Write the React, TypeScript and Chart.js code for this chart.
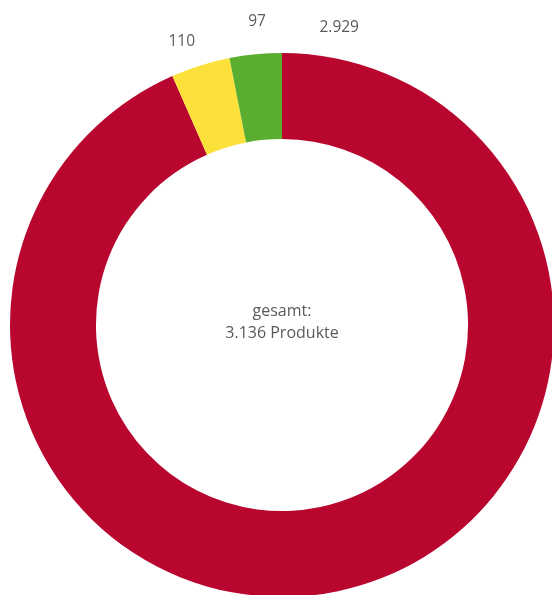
import React, { useEffect, useRef } from "react";
import { Chart, registerables } from "chart.js";

Chart.register(...registerables);

const categories = ["Kategorie A", "Kategorie B", "Kategorie C"];
const values = [2929, 110, 97];
const valueLabels = ["2.929", "110", "97"];
const colors = ["#B8062F", "#FCE13B", "#5AAE2F"];
const centerLines = ["gesamt:", "3.136 Produkte"];

const FONT = "'Open Sans', 'Noto Sans', sans-serif";

const labelPlugin = {
  id: "outerLabels",
  afterDatasetsDraw(chart: any) {
    const ctx = chart.ctx;
    const meta = chart.getDatasetMeta(0);
    ctx.save();
    ctx.fillStyle = "#5a5a5a";
    ctx.font = `15.5px ${FONT}`;
    ctx.textAlign = "center";
    ctx.textBaseline = "middle";
    meta.data.forEach((arc: any, i: number) => {
      const p = arc.getProps(["x", "y", "startAngle", "endAngle", "outerRadius"], true);
      let angle = (p.startAngle + p.endAngle) / 2;
      let r = p.outerRadius + 32;
      if (p.endAngle - p.startAngle > Math.PI) {
        angle = p.startAngle + 0.19;
        r = p.outerRadius + 31;
      } else if (i === 1) {
        angle -= 0.035;
        r = p.outerRadius + 29;
      } else {
        angle += 0.015;
      }
      const x = p.x + Math.cos(angle) * r;
      const y = p.y + Math.sin(angle) * r;
      ctx.fillText(valueLabels[i], x, y);
    });
    const a0 = meta.data[0];
    ctx.font = `16px ${FONT}`;
    ctx.fillText(centerLines[0], a0.x, a0.y - 14);
    ctx.fillText(centerLines[1], a0.x, a0.y + 8);
    ctx.restore();
  },
};

export default function App() {
  const ref = useRef<HTMLCanvasElement>(null);
  useEffect(() => {
    if (!ref.current) return;
    const chart = new Chart(ref.current, {
      type: "doughnut",
      data: {
        labels: categories,
        datasets: [
          {
            data: values,
            backgroundColor: colors,
            borderWidth: 0,
            hoverBorderWidth: 0,
            hoverOffset: 0,
          },
        ],
      },
      options: {
        responsive: false,
        animation: false,
        cutout: "68.4%",
        layout: { padding: { left: 10, right: 10, top: 53, bottom: 3 } },
        plugins: {
          legend: { display: false },
          tooltip: { enabled: false },
        },
      },
      plugins: [labelPlugin],
    });
    return () => chart.destroy();
  }, []);
  return (
    <div style={{ position: "absolute", left: 0, top: 0, width: 552, height: 595, overflow: "hidden", background: "#fff" }}>
      <canvas ref={ref} width={564} height={600} style={{ display: "block" }} />
    </div>
  );
}
